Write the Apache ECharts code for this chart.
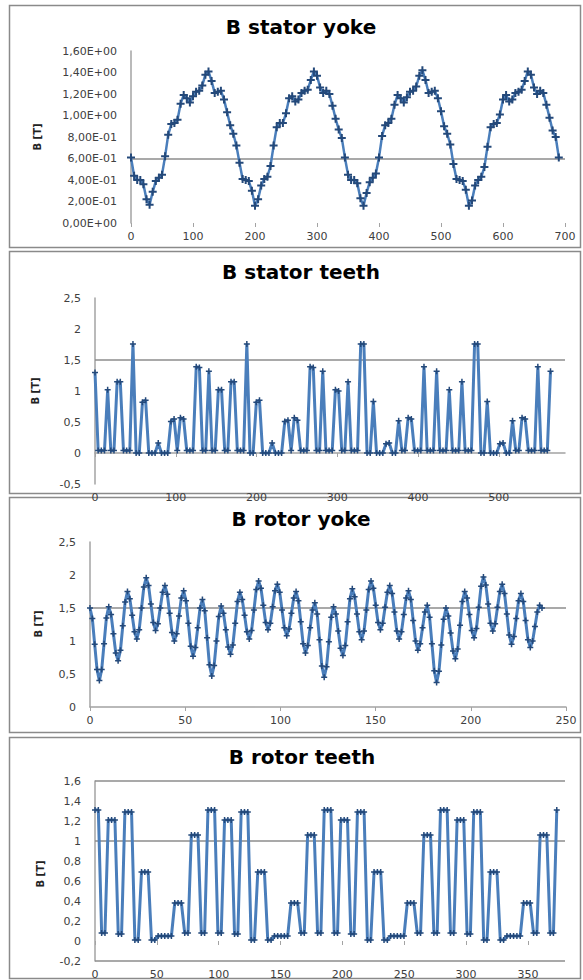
<!DOCTYPE html>
<html><head><meta charset="utf-8">
<script src="https://cdn.jsdelivr.net/npm/echarts@6/dist/echarts.min.js"></script>
<style>html,body{margin:0;padding:0;background:#fff}#c{width:583px;height:980px}</style>
</head><body><div id="c"></div>
<script>
// ---------- data ----------
const titles = ['B stator yoke', 'B stator teeth', 'B rotor yoke', 'B rotor teeth'];
const yAxisName = 'B [T]';

const statorYokeStep = 5;
const statorYokeB = [
 0.61,0.44,0.40,0.40,0.36,0.22,0.17,0.29,0.39,0.42,0.45,0.62,0.82,0.92,0.93,0.96,1.11,1.19,1.16,1.12,1.18,1.22,1.23,1.28,1.38,1.41,1.32,1.21,1.22,1.23,1.15,1.03,0.91,0.83,0.72,
 0.56,0.41,0.40,0.39,0.30,0.16,0.22,0.35,0.41,0.43,0.53,0.72,0.89,0.93,0.93,1.02,1.16,1.18,1.13,1.15,1.21,1.23,1.24,1.33,1.41,1.37,1.26,1.21,1.23,1.20,1.09,0.97,0.87,0.79,0.61,
 0.45,0.40,0.40,0.37,0.23,0.16,0.28,0.38,0.42,0.46,0.61,0.81,0.91,0.93,0.97,1.10,1.19,1.16,1.12,1.17,1.22,1.23,1.27,1.37,1.42,1.33,1.21,1.22,1.23,1.16,1.04,0.90,0.83,0.73,
 0.55,0.41,0.40,0.39,0.31,0.16,0.21,0.35,0.40,0.43,0.52,0.71,0.89,0.92,0.93,1.01,1.15,1.19,1.13,1.15,1.21,1.22,1.24,1.32,1.41,1.38,1.26,1.20,1.23,1.21,1.10,0.98,0.86,0.80,0.61
];

const statorTeethStep = 3.917;
const statorTeethB = [
 1.30,0.04,0.04,0.04,1.02,0.04,0.04,1.15,1.15,0.04,0.04,0.04,1.76,0.00,0.00,0.82,0.85,0.00,0.00,0.00,0.16,0.00,0.00,0.00,0.51,0.55,0.04,0.57,0.55,0.04,0.04,0.04,1.39,1.38,0.04,0.04,
 1.32,0.04,0.04,1.02,1.02,0.04,0.04,1.15,1.15,0.04,0.04,0.04,1.76,0.00,0.00,0.82,0.85,0.00,0.00,0.00,0.16,0.00,0.00,0.00,0.51,0.53,0.04,0.57,0.53,0.04,0.04,0.04,1.39,1.38,0.04,0.04,
 1.32,0.04,0.04,0.04,1.02,1.00,0.04,0.04,1.15,0.04,0.04,0.04,1.76,1.76,0.00,0.00,0.83,0.00,0.00,0.00,0.15,0.16,0.00,0.00,0.52,0.04,0.04,0.57,0.55,0.04,0.04,0.04,1.39,0.04,0.04,0.04,
 1.32,0.04,0.04,0.04,1.02,0.04,0.04,0.04,1.15,0.04,0.04,0.04,1.76,1.76,0.00,0.00,0.83,0.00,0.00,0.00,0.15,0.16,0.00,0.00,0.52,0.04,0.04,0.57,0.55,0.04,0.04,0.04,1.39,0.04,0.04,0.04,
 1.32
];

const rotorYokeStep = 1.23;
const rotorYokeB = [
 1.50,
 1.34,0.95,0.57,0.40, 0.57,0.96,1.35,1.52, 1.40,1.11,0.82,0.70, 0.86,1.23,1.59,1.75,
 1.64,1.39,1.14,1.03, 1.17,1.50,1.82,1.96, 1.84,1.56,1.28,1.16, 1.26,1.50,1.74,1.84,
 1.71,1.42,1.13,1.00, 1.11,1.38,1.65,1.76, 1.61,1.27,0.92,0.77, 0.90,1.20,1.50,1.63,
 1.46,1.05,0.64,0.47, 0.63,1.00,1.37,1.53, 1.42,1.17,0.91,0.80, 0.94,1.27,1.60,1.74,
 1.63,1.39,1.14,1.03, 1.16,1.47,1.78,1.91, 1.80,1.54,1.28,1.17, 1.27,1.52,1.76,1.86,
 1.74,1.47,1.20,1.08, 1.18,1.42,1.65,1.75, 1.61,1.29,0.96,0.82, 0.93,1.20,1.47,1.58,
 1.41,1.02,0.62,0.45, 0.61,0.99,1.36,1.52, 1.41,1.15,0.89,0.78, 0.93,1.29,1.64,1.79,
 1.67,1.41,1.14,1.02, 1.15,1.47,1.78,1.91, 1.80,1.54,1.28,1.17, 1.27,1.51,1.74,1.84,
 1.72,1.44,1.15,1.03, 1.14,1.40,1.65,1.76, 1.63,1.31,1.00,0.86, 0.96,1.20,1.44,1.54,
 1.36,0.96,0.55,0.37, 0.54,0.94,1.33,1.50, 1.38,1.12,0.85,0.73, 0.88,1.24,1.60,1.75,
 1.65,1.40,1.16,1.05, 1.19,1.51,1.83,1.97, 1.85,1.56,1.27,1.15, 1.26,1.51,1.75,1.86,
 1.72,1.41,1.09,0.95, 1.07,1.34,1.61,1.72, 1.60,1.31,1.02,0.90, 1.00,1.22,1.44,1.54,
 1.50
];

const rotorTeethStep = 2.686;
const rotorTeethB = [
 1.31,1.31,0.08,0.08,1.21,1.21,1.21,0.07,0.07,1.29,1.29,1.29,0.01,0.01,0.69,0.69,0.69,0.01,0.01,0.05,0.05,0.05,0.05,0.05,0.38,0.38,0.38,0.08,0.08,1.06,1.06,1.06,0.08,0.08,
 1.31,1.31,1.31,0.08,0.08,1.21,1.21,1.21,0.07,0.07,1.29,1.29,1.29,0.01,0.01,0.69,0.69,0.69,0.01,0.01,0.05,0.05,0.05,0.05,0.05,0.38,0.38,0.38,0.08,0.08,1.06,1.06,1.06,0.08,0.08,
 1.31,1.31,1.31,0.08,0.08,1.21,1.21,1.21,0.07,0.07,1.29,1.29,1.29,0.01,0.01,0.69,0.69,0.69,0.01,0.01,0.05,0.05,0.05,0.05,0.05,0.38,0.38,0.38,0.08,0.08,1.06,1.06,1.06,0.08,0.08,
 1.31,1.31,1.31,0.08,0.08,1.21,1.21,1.21,0.07,0.07,1.29,1.29,1.29,0.01,0.01,0.69,0.69,0.69,0.01,0.01,0.05,0.05,0.05,0.05,0.05,0.38,0.38,0.38,0.08,0.08,1.06,1.06,1.06,0.08,0.08,
 1.31
];

const yTickLabels1 = ['0,00E+00','2,00E-01','4,00E-01','6,00E-01','8,00E-01','1,00E+00','1,20E+00','1,40E+00','1,60E+00'];
const yTickLabels2 = ['-0,5','0','0,5','1','1,5','2','2,5'];
const yTickLabels3 = ['0','0,5','1','1,5','2','2,5'];
const yTickLabels4 = ['-0,2','0','0,2','0,4','0,6','0,8','1','1,2','1,4','1,6'];
const xTickLabels1 = ['0','100','200','300','400','500','600','700'];
const xTickLabels2 = ['0','100','200','300','400','500'];
const xTickLabels3 = ['0','50','100','150','200','250'];
const xTickLabels4 = ['0','50','100','150','200','250','300','350'];
const refLines1 = [0.6];
const refLines2 = [1.5];
const refLines3 = [1.5];
const refLines4 = [1.6, 1.0, -0.2];

// ---------- layout ----------
const FONT = '"DejaVu Sans", sans-serif';
const panels = [
  {title: titles[0], ys: statorYokeB, step: statorYokeStep, xl: xTickLabels1, yl: yTickLabels1, ref: refLines1,
   grid: {left:131, top:51, width:434, height:172}, xMax:700, xLine:false, frame:[9.5,5.5,571,242],
   tpos:[301,27], npos:[37,137], sym:8, lw:2.5},
  {title: titles[1], ys: statorTeethB, step: statorTeethStep, xl: xTickLabels2, yl: yTickLabels2, ref: refLines2,
   grid: {left:95, top:298, width:470, height:186}, xMax:582, xLine:true, frame:[9.5,251.5,571,242],
   tpos:[301,272], npos:[35,391], sym:6, lw:3},
  {title: titles[2], ys: rotorYokeB, step: rotorYokeStep, xl: xTickLabels3, yl: yTickLabels3, ref: refLines3,
   grid: {left:90, top:542, width:476, height:165}, xMax:250, xLine:true, frame:[9.5,497.5,571,235],
   tpos:[301,519], npos:[38,624], sym:6, lw:3},
  {title: titles[3], ys: rotorTeethB, step: rotorTeethStep, xl: xTickLabels4, yl: yTickLabels4, ref: refLines4,
   grid: {left:95, top:781, width:470, height:187}, xMax:380, xLine:false, frame:[9.5,737.5,571,241],
   tpos:[302,757], npos:[40,874], sym:6, lw:3}
];

const num = s => Number(s.replace(',', '.'));
const PLUS = 'path://M3,0 H5 V3 H8 V5 H5 V8 H3 V5 H0 V3 H3 Z';
const AXC = '#a3a3a3';

const grids = [], xAxes = [], yAxes = [], series = [], graphics = [];
panels.forEach((p, i) => {
  grids.push(p.grid);
  const xv = p.xl.map(num), yv = p.yl.map(num);
  xAxes.push({
    type:'value', gridIndex:i, min:0, max:p.xMax,
    axisLine:{show:p.xLine, onZero:true, lineStyle:{color:AXC, width:1.5}},
    axisTick:{show:true, length:4, customValues:xv, lineStyle:{color:AXC}},
    axisLabel:{customValues:xv, formatter:v => p.xl[xv.findIndex(u => Math.abs(u - v) < 1e-6)] || '',
      color:'#404040', fontSize:11, fontFamily:FONT, margin:8},
    splitLine:{show:false}
  });
  yAxes.push({
    type:'value', gridIndex:i, min:yv[0], max:yv[yv.length-1],
    axisLine:{show:true, lineStyle:{color:AXC, width:1.5}},
    axisTick:{show:false, customValues:yv},
    axisLabel:{customValues:yv, formatter:v => p.yl[yv.findIndex(u => Math.abs(u - v) < 1e-6)] || '',
      color:'#404040', fontSize:11, fontFamily:FONT, margin:14},
    splitLine:{show:false}
  });
  series.push({
    type:'line', xAxisIndex:i, yAxisIndex:i, z:3,
    data: p.ys.map((y, k) => [k * p.step, y]),
    symbol: PLUS, symbolSize: p.sym, showAllSymbol:true,
    lineStyle:{color:'#4a7ebb', width:p.lw},
    itemStyle:{color:'#24497a'},
    animation:false,
    markLine:{silent:true, symbol:'none', animation:false, z:1, label:{show:false},
      lineStyle:{color:'#8c8c8c', width:1.5, type:'solid'},
      data: p.ref.map(v => ({yAxis: v}))}
  });
  graphics.push({type:'rect', shape:{x:p.frame[0], y:p.frame[1], width:p.frame[2], height:p.frame[3]},
    style:{fill:'none', stroke:'#8a8a8a', lineWidth:1.5}, silent:true, z:-1});
  graphics.push({type:'text', x:p.tpos[0], y:p.tpos[1], silent:true,
    style:{text:p.title, font:'bold 20px ' + FONT, fill:'#000', align:'center', verticalAlign:'middle',
      textAlign:'center', textVerticalAlign:'middle'}});
  graphics.push({type:'text', x:p.npos[0], y:p.npos[1], rotation:Math.PI/2, silent:true,
    style:{text:yAxisName, font:'bold 10px ' + FONT, fill:'#222', align:'center', verticalAlign:'middle',
      textAlign:'center', textVerticalAlign:'middle'}});
});

const chart = echarts.init(document.getElementById('c'), null, {renderer:'svg'});
chart.setOption({
  backgroundColor:'#fff', animation:false,
  grid: grids, xAxis: xAxes, yAxis: yAxes, series: series, graphic: graphics
});
</script></body></html>
